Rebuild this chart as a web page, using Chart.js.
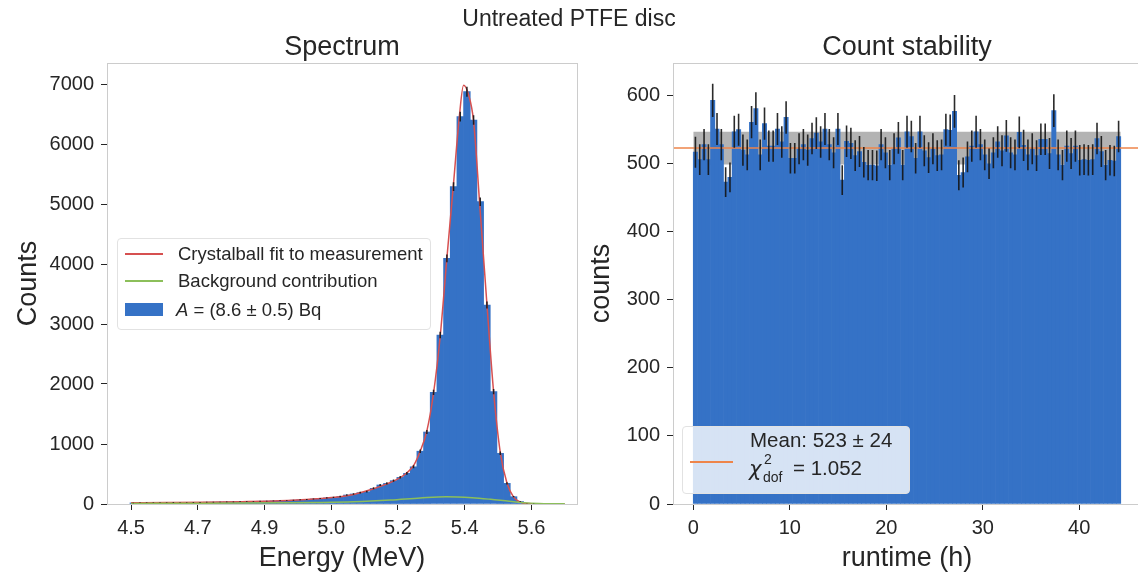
<!DOCTYPE html>
<html>
<head>
<meta charset="utf-8">
<script src="https://cdn.jsdelivr.net/npm/chart.js@4.4.1/dist/chart.umd.min.js"></script>
<style>
  body { margin: 0; width: 1138px; height: 575px; overflow: hidden; background: #fff;
         position: relative; font-family: "Liberation Sans", Arial, sans-serif; color: #262626; }
  canvas { position: absolute; top: 0; }
  .txt { position: absolute; white-space: nowrap; line-height: 1; transform: translateY(-50%); }
  .box { position: absolute; background: rgba(255,255,255,0.8); border: 1px solid #e2e2e2; border-radius: 4px; }
  .mark { position: absolute; }
</style>
</head>
<body>
<canvas id="spectrum" width="590" height="575" style="left:0"></canvas>
<canvas id="stability" width="575" height="575" style="left:575px"></canvas>

<div class="txt" style="left:569px;top:18px;font-size:23px;transform:translate(-50%,-50%)">Untreated PTFE disc</div>

<!-- legend: spectrum -->
<div class="box" style="left:117px;top:238px;width:312px;height:90px"></div>
<div class="mark" style="left:125px;top:253px;width:38px;height:1.5px;background:#d65050"></div>
<div class="txt" style="left:178px;top:254px;font-size:18.5px">Crystalball fit to measurement</div>
<div class="mark" style="left:125px;top:280px;width:38px;height:1.5px;background:#8cbf5a"></div>
<div class="txt" style="left:178px;top:281px;font-size:18.5px">Background contribution</div>
<div class="mark" style="left:125px;top:303px;width:38px;height:13px;background:#3572c6"></div>
<div class="txt" style="left:176px;top:310px;font-size:18.5px"><i>A</i> = (8.6 ± 0.5) Bq</div>

<!-- legend: count stability -->
<div class="box" style="left:682px;top:426px;width:226px;height:66px"></div>
<div class="mark" style="left:690px;top:461px;width:43px;height:1.5px;background:#ee854a"></div>
<div class="txt" style="left:750px;top:440px;font-size:20.5px">Mean: 523 ± 24</div>
<div class="txt" style="left:749px;top:469px;font-size:21px;font-family:'DejaVu Sans'"><i>χ</i></div>
<div class="txt" style="left:764px;top:459px;font-size:14px">2</div>
<div class="txt" style="left:763px;top:477px;font-size:14px">dof</div>
<div class="txt" style="left:793px;top:468px;font-size:20.5px">= 1.052</div>

<script>
// spectrum histogram (bins of SPEC_BIN_WIDTH MeV starting at SPEC_BIN_START)
const SPEC_BIN_START = 4.497;
const SPEC_BIN_WIDTH = 0.018;
const SPEC_COUNTS = [18, 20, 19, 22, 21, 24, 23, 26, 25, 28,
                     27, 30, 31, 33, 34, 36, 38, 40, 43, 46,
                     48, 52, 56, 60, 64, 70, 76, 84, 92, 102,
                     112, 125, 150, 167, 189, 205, 261, 317, 344, 389,
                     444, 511, 620, 880, 1200, 1860, 2817, 4095, 5289, 6456,
                     6872, 6400, 5039, 3317, 1872, 844, 344, 122, 40, 10,
                     3, 1, 0, 0, 0];
const FIT_E = [4.50, 4.60, 4.70, 4.80, 4.90, 5.00, 5.05, 5.10, 5.15, 5.19, 5.226, 5.244, 5.262, 5.28, 5.298, 5.316, 5.334,
               5.352, 5.37, 5.385, 5.397, 5.41, 5.424, 5.44, 5.46, 5.478, 5.496, 5.514, 5.532, 5.55, 5.57, 5.60, 5.67];
const FIT_V = [20, 23, 28, 38, 54, 88, 112, 160, 245, 335, 440, 520, 640, 880, 1220, 1850, 2800,
               4100, 5350, 6420, 6980, 6830, 6380, 5040, 3330, 1870, 860, 350, 115, 32, 7, 1, 0];
const BG_E = [4.50, 4.70, 4.90, 5.00, 5.10, 5.20, 5.28, 5.35, 5.42, 5.47, 5.52, 5.56, 5.60, 5.64, 5.67];
const BG_V = [10, 14, 20, 25, 36, 65, 100, 122, 105, 78, 45, 22, 10, 5, 3];
const SPEC_X_TICKS = [4.5, 4.68, 4.86, 5.04, 5.22, 5.4, 5.58];
const SPEC_Y_TICKS = [0, 1000, 2000, 3000, 4000, 5000, 6000, 7000];

// count stability (bins of RUN_BIN_WIDTH hours)
const RUN_BIN_WIDTH = 0.4475;
const RUN_COUNTS = [517, 506, 528, 506, 593, 551, 528, 473, 480, 547,
                    550, 520, 513, 561, 581, 513, 559, 526, 526, 551,
                    532, 568, 508, 508, 522, 528, 520, 537, 545, 532,
                    551, 528, 516, 551, 476, 533, 530, 512, 518, 502,
                    498, 498, 497, 528, 516, 498, 522, 538, 498, 547,
                    540, 508, 547, 519, 509, 522, 512, 513, 550, 549,
                    577, 483, 487, 510, 526, 547, 528, 513, 500, 516,
                    532, 519, 541, 516, 513, 546, 527, 513, 522, 512,
                    536, 536, 515, 578, 513, 498, 526, 515, 526, 505,
                    506, 505, 506, 537, 518, 498, 505, 504, 540];
const RUN_MEAN = 523;
const RUN_STD = 24;

const BLUE = '#3572c6', RED = '#d65050', GREEN = '#8cbf5a', ORANGE = '#ee854a';
const INK = '#262626', SPINE = '#cccccc';

Chart.defaults.font.family = '"Liberation Sans", Arial, sans-serif';
Chart.defaults.color = INK;

const errBars = {
  id: 'errBars',
  afterDatasetsDraw(chart) {
    const {ctx, scales: {x, y}} = chart;
    ctx.save();
    ctx.strokeStyle = 'rgba(20,20,20,0.9)';
    ctx.lineWidth = chart.canvas.id === 'stability' ? 1.6 : 1.5;
    ctx.beginPath();
    chart.data.datasets[0].data.forEach(p => {
      if (p.y <= 0) return;
      const e = Math.sqrt(p.y), px = x.getPixelForValue(p.x);
      ctx.moveTo(px, y.getPixelForValue(p.y - e));
      ctx.lineTo(px, y.getPixelForValue(p.y + e));
    });
    ctx.stroke();
    ctx.restore();
  }
};

const frame = {
  id: 'frame',
  afterDraw(chart, args, opts) {
    const {ctx, chartArea: a} = chart;
    ctx.save();
    ctx.strokeStyle = SPINE;
    ctx.lineWidth = 1;
    ctx.strokeRect(a.left + 0.5, a.top + 0.5, a.right - a.left, a.bottom - a.top);
    ctx.font = '27px "Liberation Sans", Arial, sans-serif';
    ctx.fillStyle = INK;
    ctx.textAlign = 'center';
    ctx.textBaseline = 'middle';
    ctx.fillText(opts.title, (a.left + a.right) / 2, a.top - 15);
    ctx.restore();
  }
};

function axis(extra) {
  return Object.assign({
    type: 'linear',
    offset: false,
    grid: { drawOnChartArea: false, offset: false, tickLength: 6, tickColor: INK },
    border: { color: SPINE }
  }, extra);
}
const tickFont = { size: 20 };

const specBars = SPEC_COUNTS.map((c, i) => ({ x: SPEC_BIN_START + (i + 0.5) * SPEC_BIN_WIDTH, y: c }));

new Chart(document.getElementById('spectrum'), {
  type: 'bar',
  data: {
    datasets: [
      { data: specBars, backgroundColor: BLUE, borderWidth: 0, barPercentage: 1, categoryPercentage: 1, order: 2 },
      { type: 'line', data: FIT_E.map((e, i) => ({ x: e, y: FIT_V[i] })), borderColor: RED, borderWidth: 1.5,
        pointRadius: 0, cubicInterpolationMode: 'monotone', order: 1 },
      { type: 'line', data: BG_E.map((e, i) => ({ x: e, y: BG_V[i] })), borderColor: GREEN, borderWidth: 1.5,
        pointRadius: 0, cubicInterpolationMode: 'monotone', order: 0 }
    ]
  },
  options: {
    responsive: false, animation: false, devicePixelRatio: 1,
    layout: { padding: { top: 63, right: 13, left: 0, bottom: 0 } },
    plugins: { legend: { display: false }, tooltip: { enabled: false }, frame: { title: 'Spectrum' } },
    scales: {
      x: axis({
        min: 4.435, max: 5.703,
        afterBuildTicks: s => { s.ticks = SPEC_X_TICKS.map(v => ({ value: v })); },
        afterFit: s => { s.height = 71; },
        ticks: { font: tickFont, padding: 6, maxRotation: 0, autoSkip: false, callback: v => v.toFixed(1) },
        title: { display: true, text: 'Energy (MeV)', font: { size: 27 }, padding: { top: 0, bottom: 0 } }
      }),
      y: axis({
        min: 0, max: 7350,
        afterBuildTicks: s => { s.ticks = SPEC_Y_TICKS.map(v => ({ value: v })); },
        afterFit: s => { s.width = 107; },
        ticks: { font: tickFont, padding: 7, autoSkip: false, callback: v => String(v) },
        title: { display: true, text: 'Counts', font: { size: 27 }, padding: { top: 12, bottom: 0 } }
      })
    }
  },
  plugins: [errBars, frame]
});

const runBars = RUN_COUNTS.map((c, i) => ({ x: (i + 0.5) * RUN_BIN_WIDTH, y: c }));
const runEnd = RUN_COUNTS.length * RUN_BIN_WIDTH;
const RUN_X_MIN = -2.1, RUN_X_MAX = 46.4;

new Chart(document.getElementById('stability'), {
  type: 'bar',
  data: {
    datasets: [
      { data: runBars, backgroundColor: BLUE, borderWidth: 0, barPercentage: 1, categoryPercentage: 1, order: 2 },
      { type: 'line', data: [{ x: 0, y: RUN_MEAN + RUN_STD }, { x: runEnd, y: RUN_MEAN + RUN_STD }],
        borderWidth: 0, pointRadius: 0, backgroundColor: '#b3b3b3', fill: { value: RUN_MEAN - RUN_STD }, order: 3 },
      { type: 'line', data: [{ x: RUN_X_MIN, y: RUN_MEAN }, { x: RUN_X_MAX, y: RUN_MEAN }],
        borderColor: ORANGE, borderWidth: 1.5, pointRadius: 0, order: 0 }
    ]
  },
  options: {
    responsive: false, animation: false, devicePixelRatio: 1,
    layout: { padding: { top: 63, right: 9, left: 0, bottom: 0 } },
    plugins: { legend: { display: false }, tooltip: { enabled: false }, filler: { propagate: false },
               frame: { title: 'Count stability' } },
    scales: {
      x: axis({
        min: RUN_X_MIN, max: RUN_X_MAX,
        afterFit: s => { s.height = 71; },
        ticks: { font: tickFont, padding: 6, includeBounds: false, stepSize: 10, maxRotation: 0 },
        title: { display: true, text: 'runtime (h)', font: { size: 27 }, padding: { top: 0, bottom: 0 } }
      }),
      y: axis({
        min: 0, max: 648,
        afterFit: s => { s.width = 98; },
        ticks: { font: tickFont, padding: 7, includeBounds: false, stepSize: 100 },
        title: { display: true, text: 'counts', font: { size: 27 }, padding: { top: 10, bottom: 0 } }
      })
    }
  },
  plugins: [errBars, frame]
});
</script>
</body>
</html>
